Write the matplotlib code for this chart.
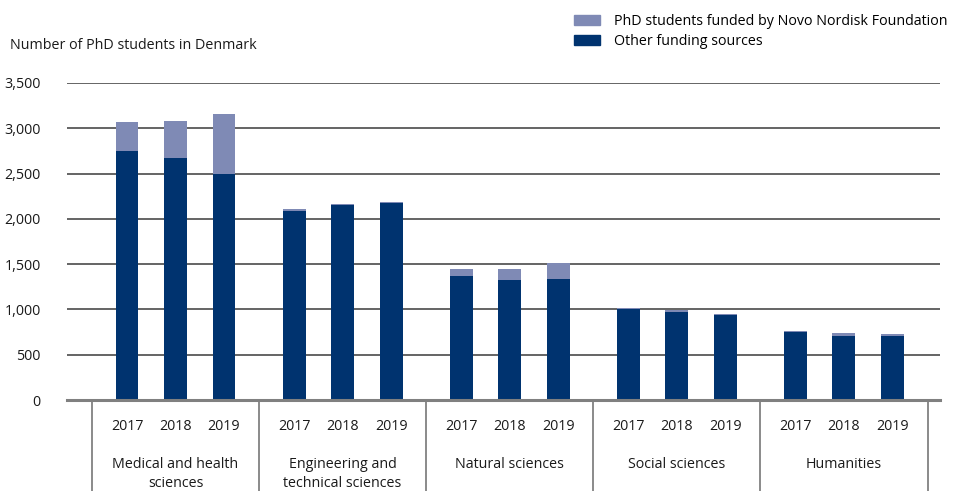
import matplotlib
matplotlib.use("Agg")
import matplotlib.pyplot as plt
import matplotlib.transforms as mtransforms
from matplotlib.patches import Patch

plt.rcParams["font.family"] = ["Open Sans", "DejaVu Sans"]

CATEGORIES = ["Medical and health\nsciences", "Engineering and\ntechnical sciences",
              "Natural sciences", "Social sciences", "Humanities"]
YEARS = ["2017", "2018", "2019"]

# other funding sources, per category x year
OTHER = [
    [2750, 2672, 2495],
    [2090, 2153, 2175],
    [1369, 1325, 1336],
    [1005, 975, 938],
    [751, 707, 707],
]
# totals (top of the light segment)
TOTAL = [
    [3069, 3080, 3157],
    [2109, 2164, 2186],
    [1446, 1446, 1512],
    [1016, 997, 949],
    [762, 740, 729],
]

DARK = "#00336f"
LIGHT = "#7f8ab5"

GROUP_STEP = 3.445
BAR_W = 0.47
FS = 10.3

fig = plt.figure(figsize=(9.55, 4.91), dpi=100)
ax = fig.add_axes([0.0702, 0.1853, 0.914, 0.6457])

xs, labels = [], []
for g, cat in enumerate(CATEGORIES):
    for j, yr in enumerate(YEARS):
        x = g * GROUP_STEP + j
        other = OTHER[g][j]
        novo = TOTAL[g][j] - other
        ax.bar(x, other, width=BAR_W, color=DARK, zorder=3)
        ax.bar(x, novo, bottom=other, width=BAR_W, color=LIGHT, zorder=3)
        xs.append(x)
        labels.append(yr)

ax.set_xlim(-1.237, 16.76)
ax.set_ylim(0, 3500)
ax.set_yticks(range(0, 3501, 500))
ax.set_yticklabels([f"{v:,}" for v in range(0, 3501, 500)], fontsize=FS, color="#1a1a1a")
ax.tick_params(axis="y", length=0, pad=19)
for v in range(500, 3501, 500):
    ax.axhline(v, color="#3a3a3a", lw=1.1, zorder=1)
ax.axhline(0, color="#808080", lw=2.2, zorder=4, clip_on=False)

ax.set_xticks(xs)
ax.set_xticklabels(labels, fontsize=FS, color="#1a1a1a")
ax.tick_params(axis="x", length=0, pad=14)

for s in ax.spines.values():
    s.set_visible(False)

trans = mtransforms.blended_transform_factory(ax.transData, ax.transAxes)
for g in range(len(CATEGORIES) + 1):
    xd = g * GROUP_STEP - 0.72
    ax.plot([xd, xd], [0, -0.3], transform=trans, color="#8a8a8a", lw=1.4, clip_on=False)
for g, cat in enumerate(CATEGORIES):
    ax.text(g * GROUP_STEP + 1, -0.18, cat, transform=trans, ha="center", va="top",
            fontsize=FS, color="#1a1a1a", linespacing=1.4)

fig.text(0.0105, 0.908, "Number of PhD students in Denmark", fontsize=FS,
         color="#1a1a1a", va="center", ha="left")

handles = [Patch(color=LIGHT, label="PhD students funded by Novo Nordisk Foundation"),
           Patch(color=DARK, label="Other funding sources")]
fig.legend(handles=handles, loc="upper left", bbox_to_anchor=(0.591, 0.992), frameon=False,
           fontsize=FS, handlelength=1.8, handleheight=0.75, labelspacing=0.35,
           handletextpad=1.0, borderaxespad=0.3)

fig.savefig("out.png", dpi=100)
